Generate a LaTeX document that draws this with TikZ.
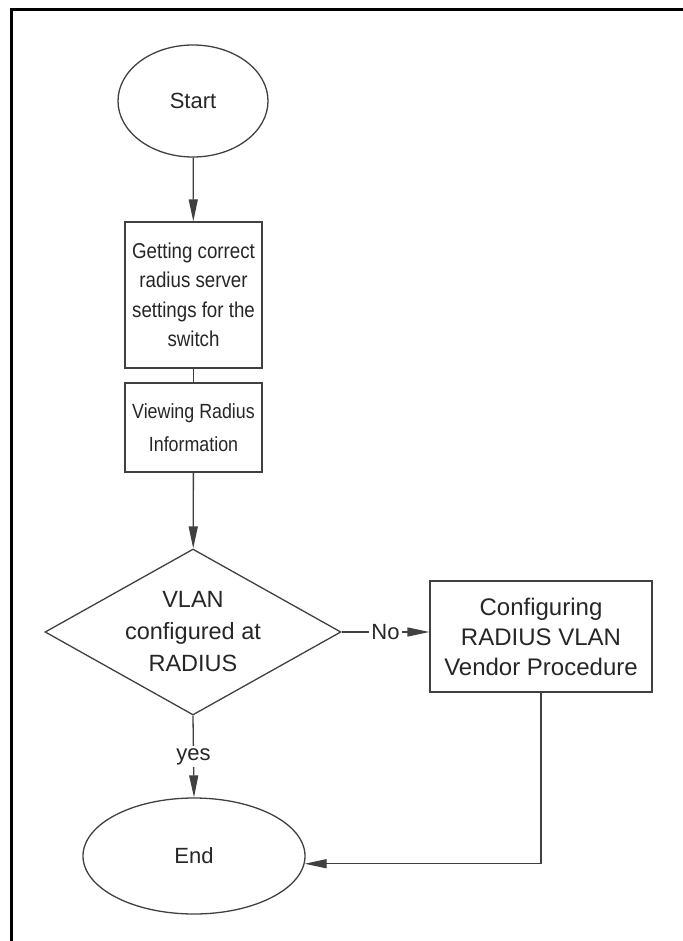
\documentclass[tikz,border=0pt]{standalone}
\usepackage{fontspec}
\setmainfont{Liberation Sans}
\newfontfamily\narrowsans[FakeStretch=0.87]{Liberation Sans}
\usetikzlibrary{shapes.geometric,arrows.meta}
\begin{document}
\begin{tikzpicture}[x=1pt,y=-1pt,
  every node/.style={font=\fontsize{22}{29}\selectfont, text=black!85, align=center, inner sep=0pt},
  term/.style={ellipse, draw=black!75, line width=1.3pt},
  procbox/.style={rectangle, draw=black!75, line width=1.3pt},
  decide/.style={diamond, draw=black!75, line width=1.3pt},
  conn/.style={draw=black!75, line width=1.3pt},
  arr/.style={conn, -{Triangle[length=22pt,width=9pt]}},
  lbl/.style={fill=white, inner sep=2pt}]
\useasboundingbox (0,0) rectangle (682,941);
\draw[line width=3pt] (11,942) -- (11,10) -- (683,10);
\node[term, minimum width=150, minimum height=112] (start) at (193,101) {Start};
\node[procbox, minimum width=137, minimum height=146, font=\narrowsans\fontsize{21.5}{29.5}\selectfont] (b1) at (193.5,295) {Getting correct\\radius server\\settings for the\\switch};
\node[procbox, minimum width=137, minimum height=89, font=\narrowsans\fontsize{20.5}{33}\selectfont] (b2) at (193.5,427.5) {Viewing Radius\\Information};
\node[decide, minimum width=296, minimum height=166, aspect=1.8, font=\fontsize{23.5}{32}\selectfont] (dia) at (193,632) {VLAN\\configured at\\RADIUS};
\node[procbox, minimum width=222, minimum height=111, font=\fontsize{24}{30}\selectfont] (b3) at (541,636.5) {Configuring\\RADIUS VLAN\\Vendor Procedure};
\node[term, minimum width=222, minimum height=116] (end) at (194,856) {End};
\draw[arr] (start) -- (b1);
\draw[conn] (b1) -- (b2);
\draw[arr] (b2) -- (dia);
\draw[arr] (dia.east) -- node[lbl]{No} (b3.west |- dia.east);
\draw[arr] (dia.south) -- node[lbl]{yes} (end.north);
\draw[arr] (b3.south) |- (end.-4);
\end{tikzpicture}
\end{document}
